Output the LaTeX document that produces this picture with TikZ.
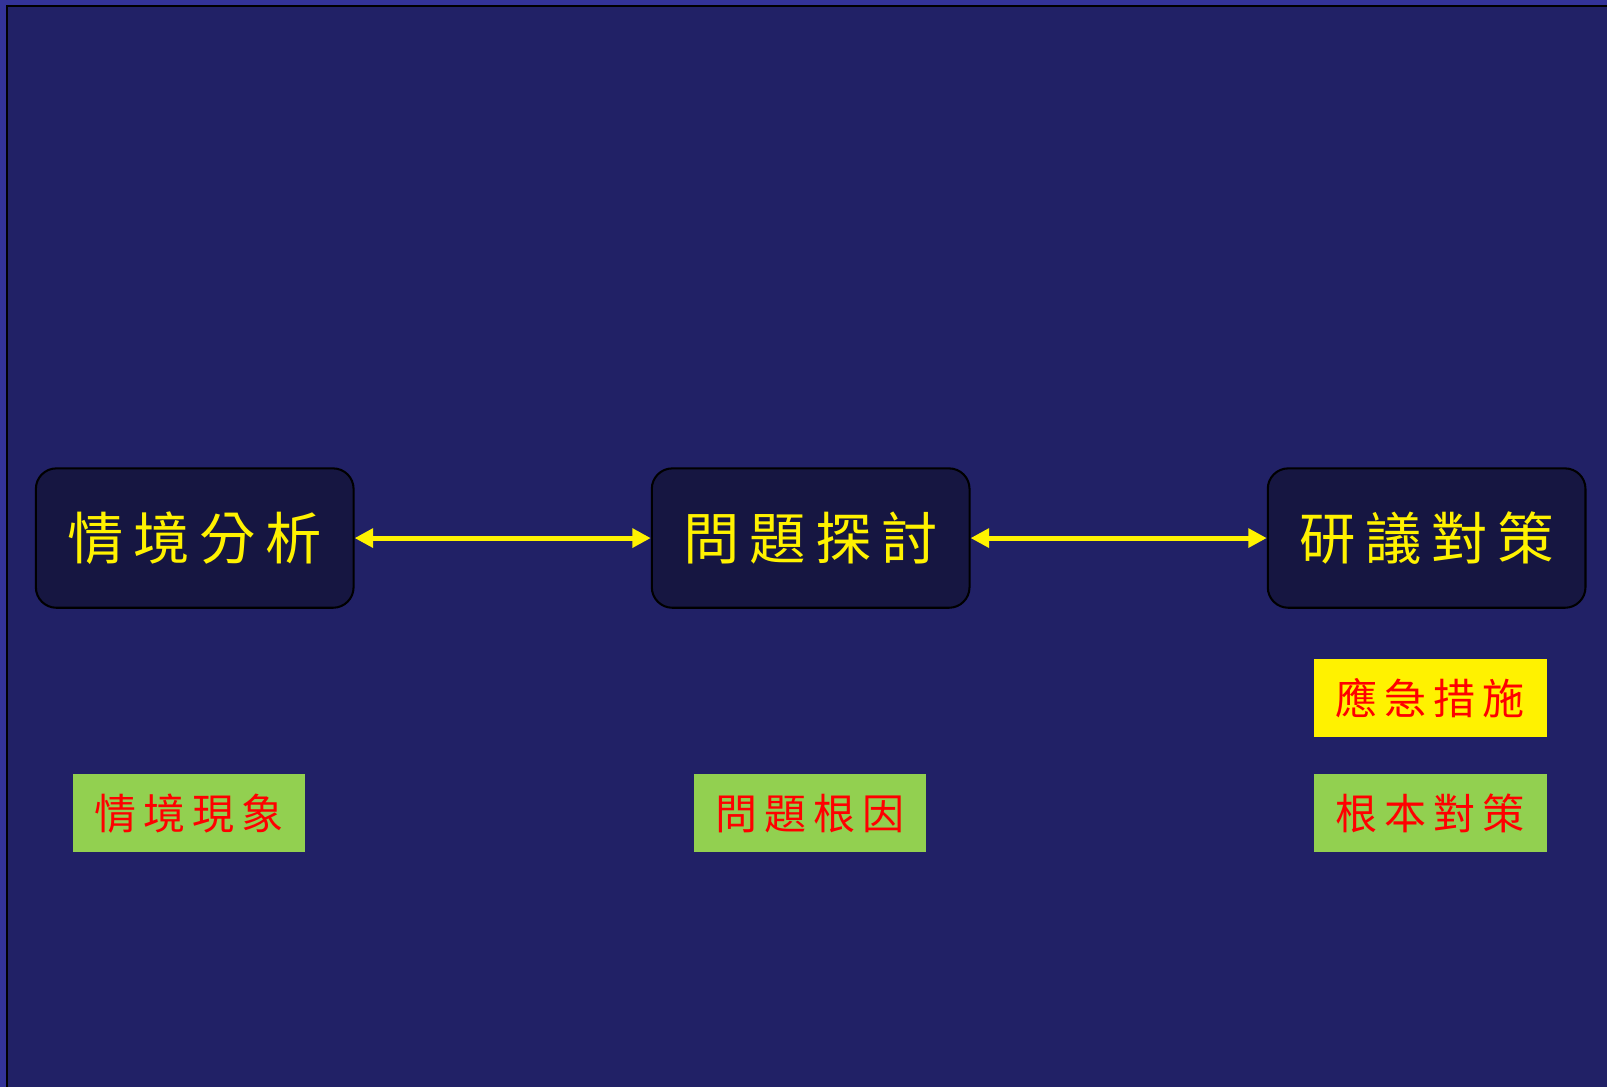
\documentclass[tikz,border=0pt]{standalone}
\usepackage{fontspec}
\newfontfamily\cjk{Noto Sans CJK TC}
\usetikzlibrary{arrows.meta}
\definecolor{outerbg}{HTML}{333399}
\definecolor{innerbg}{HTML}{212166}
\definecolor{boxbg}{HTML}{161641}
\definecolor{lblgreen}{HTML}{92D050}
\tikzset{
  mainbox/.style={draw=black, line width=1pt, fill=boxbg, rounded corners=10pt,
    minimum width=155pt, minimum height=68pt, inner sep=0pt,
    text=yellow, font=\cjk\fontsize{27.5}{30}\selectfont},
  lbl/.style={fill=#1, minimum width=113.5pt, minimum height=38pt, inner sep=0pt,
    text=red, font=\cjk\fontsize{20.5}{24}\selectfont},
  link/.style={yellow, line width=2.5pt, {Triangle[length=9pt,width=9pt]}-{Triangle[length=9pt,width=9pt]}}
}
\begin{document}
\begin{tikzpicture}[x=0.5pt,y=-0.5pt]
\useasboundingbox (0,0) rectangle (1568,1060.6);
\fill[outerbg] (0,0) rectangle (1568,1060.6);
\fill[innerbg] (6.8,5.9) rectangle (1575,1070);
\draw[black, line width=1pt] (6.8,1070) -- (6.8,5.9) -- (1575,5.9);
\node[mainbox] (a) at (190,525) {情\,境\,分\,析};
\node[mainbox] (b) at (791,525) {問\,題\,探\,討};
\node[mainbox] (c) at (1392,525) {研\,議\,對\,策};
\draw[link] (a.east) -- (b.west);
\draw[link] (b.east) -- (c.west);
\node[lbl=yellow] (d) at (1395.5,681) {應\,急\,措\,施};
\node[lbl=lblgreen] (e) at (184.5,793.5) {情\,境\,現\,象};
\node[lbl=lblgreen] (f) at (790.5,793.5) {問\,題\,根\,因};
\node[lbl=lblgreen] (g) at (1395.5,793.5) {根\,本\,對\,策};
\end{tikzpicture}
\end{document}
